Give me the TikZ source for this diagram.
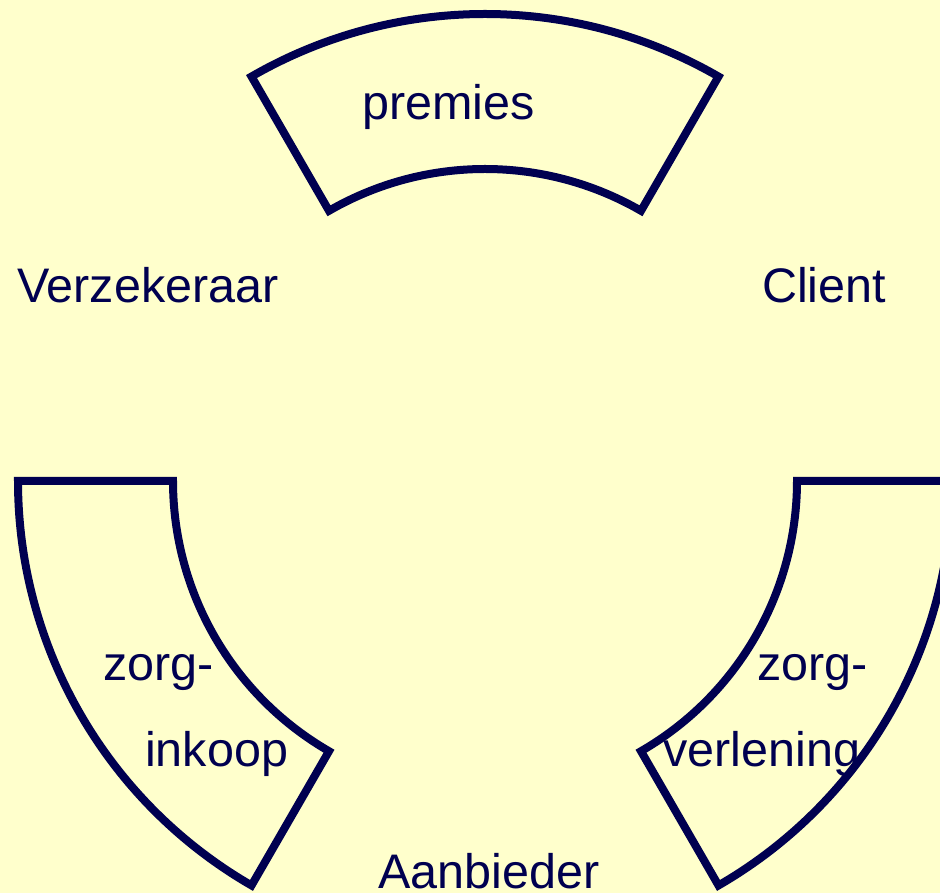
\documentclass[tikz,border=0pt]{standalone}
\usepackage{fontspec}
\setmainfont{Liberation Sans}
\usetikzlibrary{calc}
\definecolor{bgyellow}{HTML}{FFFFCC}
\definecolor{navy}{HTML}{000050}
\begin{document}
\begin{tikzpicture}[x=1pt,y=1pt,
  sector/.style={draw=navy,line width=8pt,line join=miter},
  lbl/.style={anchor=base west,inner sep=0pt,text=navy,font=\fontsize{48.5}{58}\selectfont}]
\fill[bgyellow] (0,0) rectangle (940,893);
\useasboundingbox (0,0) rectangle (940,893);
\coordinate (c) at (485,412);
% top sector
\draw[sector] ($(c)+(60:467)$) arc[start angle=60,end angle=120,radius=467]
  -- ($(c)+(120:312)$) arc[start angle=120,end angle=60,radius=312] -- cycle;
% bottom-left sector
\draw[sector] ($(c)+(180:467)$) arc[start angle=180,end angle=240,radius=467]
  -- ($(c)+(240:312)$) arc[start angle=240,end angle=180,radius=312] -- cycle;
% bottom-right sector
\draw[sector] ($(c)+(300:467)$) arc[start angle=300,end angle=360,radius=467]
  -- ($(c)+(0:312)$) arc[start angle=360,end angle=300,radius=312] -- cycle;
\node[lbl] (premies) at (362,773) {premies};
\node[lbl] (verz) at (17,590) {Verzekeraar};
\node[lbl] (client) at (762,590) {Client};
\node[lbl] (zorgL) at (103,212) {zorg-};
\node[lbl] (inkoop) at (145,126) {inkoop};
\node[lbl] (zorgR) at (757,212) {zorg-};
\node[lbl] (verlening) at (663,126) {verlening};
\node[lbl] (aanb) at (378,4) {Aanbieder};
\end{tikzpicture}
\end{document}
